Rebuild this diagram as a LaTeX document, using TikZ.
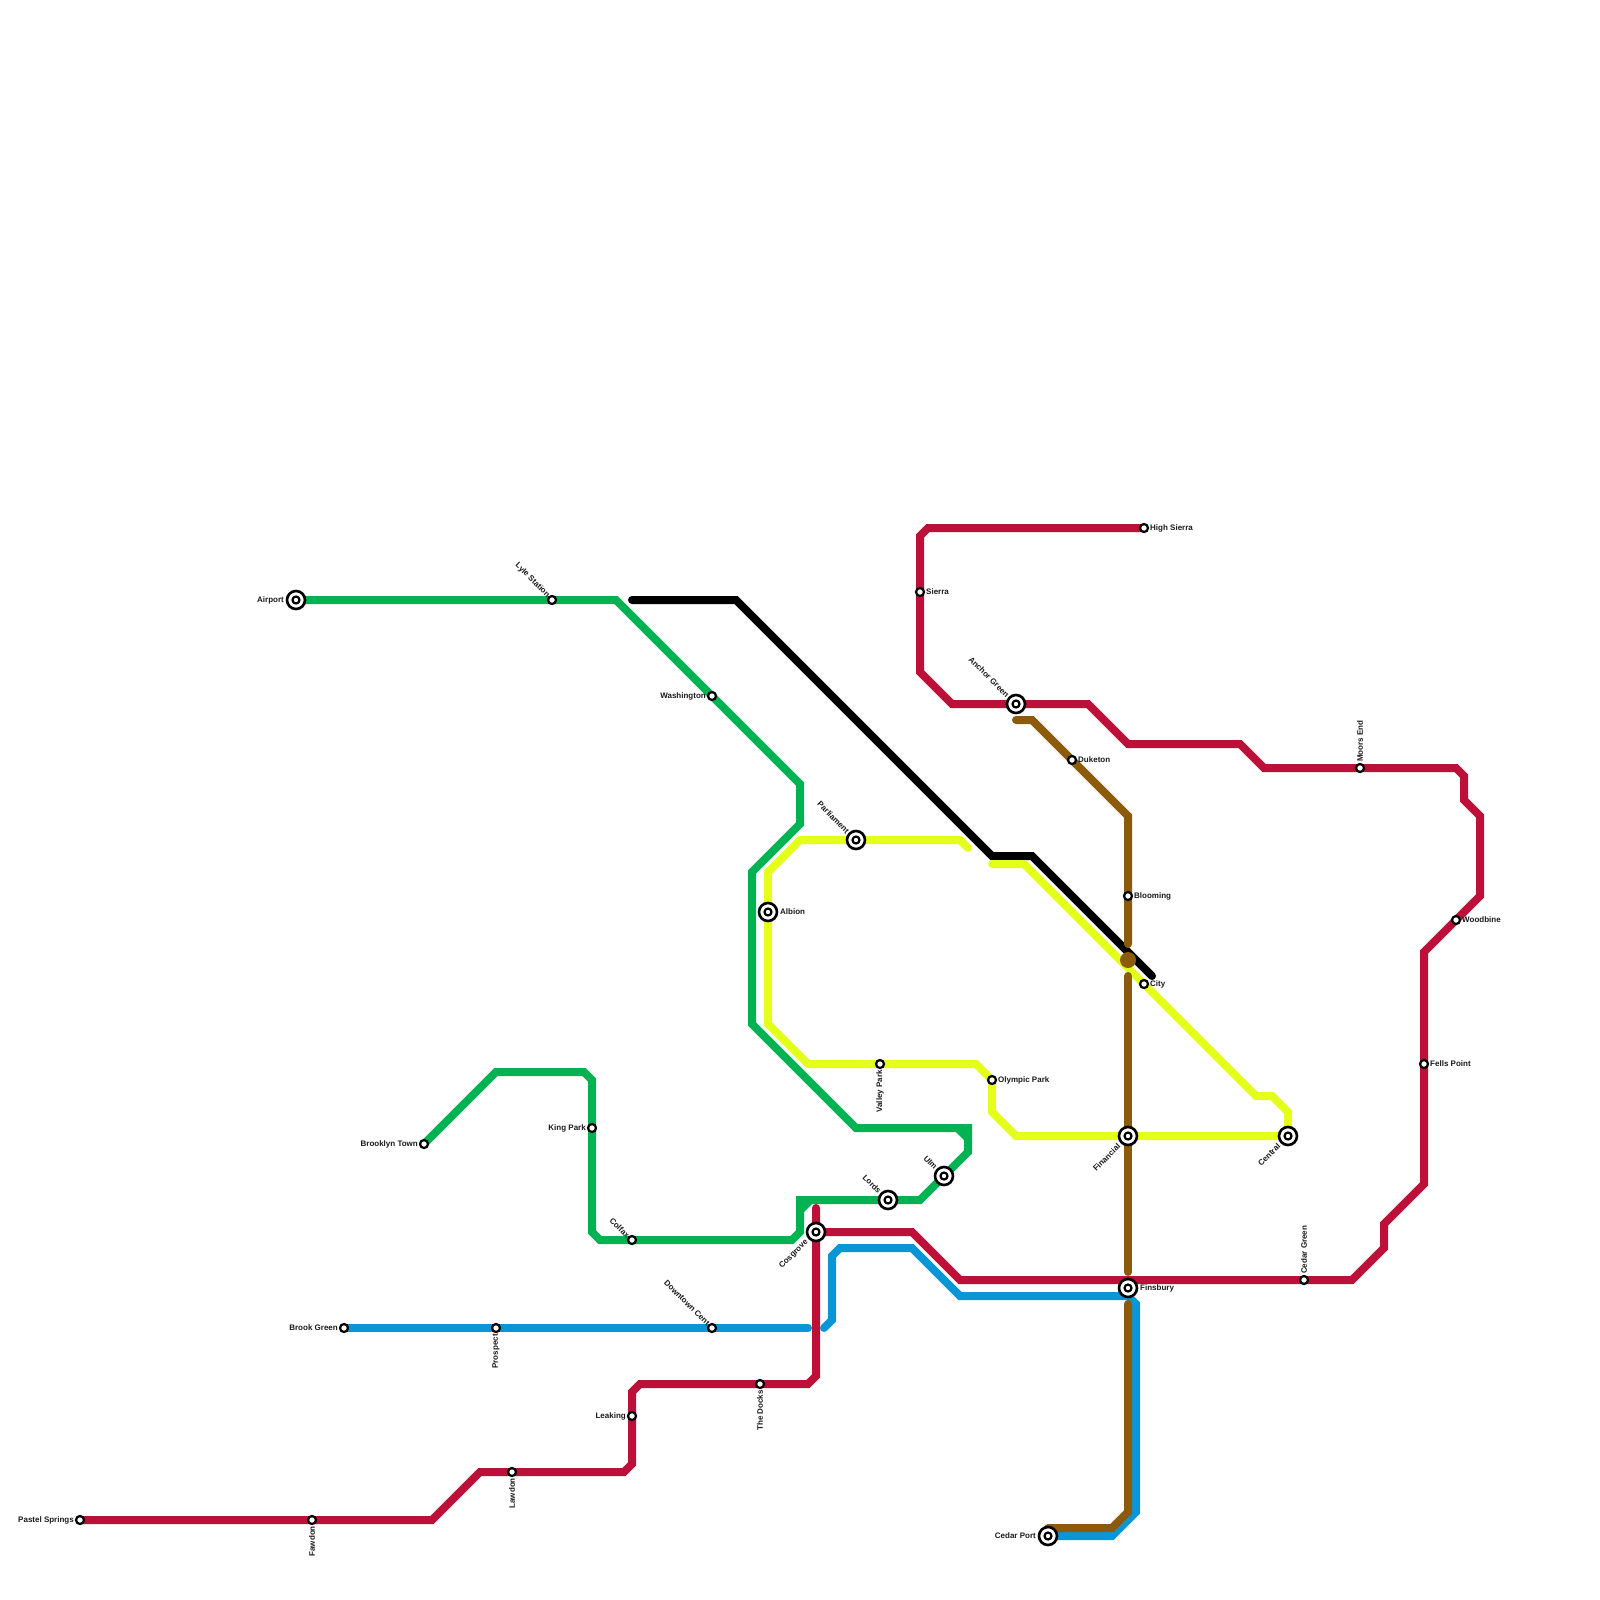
\documentclass[tikz,border=0pt]{standalone}
\usepackage{fontspec}
\setmainfont{Liberation Sans}
\pgfdeclarelayer{lines}
\pgfsetlayers{lines,main}
\definecolor{mred}{HTML}{BD1038}
\definecolor{mgreen}{HTML}{00B251}
\definecolor{mblue}{HTML}{0896D7}
\definecolor{mbrown}{HTML}{8B5A0B}
\definecolor{myellow}{HTML}{E4FF1A}
\tikzset{
  metro/.style={line width=8pt,line cap=round,miter limit=10},
  st/.style={circle,draw=black,fill=white,line width=2.2pt,inner sep=0pt,minimum size=8pt},
  ic/.style={circle,draw=black,fill=white,line width=2.6pt,inner sep=0pt,minimum size=18pt,
    path picture={\draw[black,line width=2.2pt] (path picture bounding box.center) circle (3.5pt);}},
  hub/.style={circle,fill=mbrown,inner sep=0pt,minimum size=16pt},
  lab/.style={font=\fontsize{8}{9}\selectfont\bfseries,inner sep=0pt,text=black!90},
  labE/.style={lab,anchor=west,xshift=6pt},
  labW/.style={lab,anchor=east,xshift=-6pt},
  labEi/.style={lab,anchor=west,xshift=12pt},
  labWi/.style={lab,anchor=east,xshift=-12pt},
  labD/.style={lab,anchor=east,yshift=-6pt,rotate=90},
  labU/.style={lab,anchor=west,yshift=6pt,rotate=90},
  labUL/.style={lab,anchor=east,xshift=-3.5pt,yshift=3.5pt,rotate=-45},
  labULi/.style={lab,anchor=east,xshift=-8pt,yshift=8pt,rotate=-45},
  labLLi/.style={lab,anchor=east,xshift=-9pt,yshift=-9pt,rotate=45},
}
\begin{document}
\begin{tikzpicture}[x=1pt,y=-1pt]
\useasboundingbox (0,0) rectangle (1600,1600);
% stations
\node[ic] (airport) at (296,600) {};
\node[st] (lyle) at (552,600) {};
\node[st] (washington) at (712,696) {};
\node[ic] (albion) at (768,912) {};
\node[ic] (parliament) at (856,840) {};
\node[st] (valley) at (880,1064) {};
\node[st] (olympic) at (992,1080) {};
\node[ic] (ulm) at (944,1176) {};
\node[ic] (lords) at (888,1200) {};
\node[ic] (cosgrove) at (816,1232) {};
\node[st] (colfax) at (632,1240) {};
\node[st] (kingpark) at (592,1128) {};
\node[st] (brooklyn) at (424,1144) {};
\node[st] (brookgreen) at (344,1328) {};
\node[st] (prospect) at (496,1328) {};
\node[st] (downtown) at (712,1328) {};
\node[st] (docks) at (760,1384) {};
\node[st] (leaking) at (632,1416) {};
\node[st] (lawdon) at (512,1472) {};
\node[st] (fawdon) at (312,1520) {};
\node[st] (pastel) at (80,1520) {};
\node[st] (highsierra) at (1144,528) {};
\node[st] (sierra) at (920,592) {};
\node[ic] (anchor) at (1016,704) {};
\node[st] (duketon) at (1072,760) {};
\node[st] (blooming) at (1128,896) {};
\node[hub] (hubx) at (1128,960) {};
\node[st] (city) at (1144,984) {};
\node[ic] (financial) at (1128,1136) {};
\node[ic] (central) at (1288,1136) {};
\node[ic] (finsbury) at (1128,1288) {};
\node[st] (cedargreen) at (1304,1280) {};
\node[ic] (cedarport) at (1048,1536) {};
\node[st] (moors) at (1360,768) {};
\node[st] (woodbine) at (1456,920) {};
\node[st] (fells) at (1424,1064) {};
% free ends
\coordinate (blackA) at (632,600);
\coordinate (blackB) at (1152,976);
\coordinate (yellowA) at (992,864);
\coordinate (yellowB) at (968,848);
\coordinate (redA) at (816,1208);
\coordinate (blueA) at (808,1328);
\coordinate (blueB) at (824,1328);
\coordinate (brownA) at (1016,720);
\coordinate (brownB) at (1128,944);
\coordinate (brownC) at (1128,976);
\coordinate (brownD) at (1128,1272);
\coordinate (brownE) at (1128,1304);
% labels
\node[labWi] (tairport) at (airport) {Airport};
\node[labUL] (tlyle) at (lyle) {Lyle Station};
\node[labW] (twashington) at (washington) {Washington};
\node[labEi] (talbion) at (albion) {Albion};
\node[labULi] (tparliament) at (parliament) {Parliament};
\node[labD] (tvalley) at (valley) {Valley Park};
\node[labE] (tolympic) at (olympic) {Olympic Park};
\node[labULi] (tulm) at (ulm) {Ulm};
\node[labULi] (tlords) at (lords) {Lords};
\node[labLLi] (tcosgrove) at (cosgrove) {Cosgrove};
\node[labUL] (tcolfax) at (colfax) {Colfax};
\node[labW] (tkingpark) at (kingpark) {King Park};
\node[labW] (tbrooklyn) at (brooklyn) {Brooklyn Town};
\node[labW] (tbrookgreen) at (brookgreen) {Brook Green};
\node[labD] (tprospect) at (prospect) {Prospect};
\node[labUL] (tdowntown) at (downtown) {Downtown Cent};
\node[labD] (tdocks) at (docks) {The Docks};
\node[labW] (tleaking) at (leaking) {Leaking};
\node[labD] (tlawdon) at (lawdon) {Lawdon};
\node[labD] (tfawdon) at (fawdon) {Fawdon};
\node[labW] (tpastel) at (pastel) {Pastel Springs};
\node[labE] (thighsierra) at (highsierra) {High Sierra};
\node[labE] (tsierra) at (sierra) {Sierra};
\node[labULi] (tanchor) at (anchor) {Anchor Green};
\node[labE] (tduketon) at (duketon) {Duketon};
\node[labE] (tblooming) at (blooming) {Blooming};
\node[labE] (tcity) at (city) {City};
\node[labLLi] (tfinancial) at (financial) {Financial};
\node[labLLi] (tcentral) at (central) {Central};
\node[labEi] (tfinsbury) at (finsbury) {Finsbury};
\node[labU] (tcedargreen) at (cedargreen) {Cedar Green};
\node[labWi] (tcedarport) at (cedarport) {Cedar Port};
\node[labU] (tmoors) at (moors) {Moors End};
\node[labE] (twoodbine) at (woodbine) {Woodbine};
\node[labE] (tfells) at (fells) {Fells Point};
% lines
\begin{pgfonlayer}{lines}
\draw[metro,mgreen] (airport.center) -- (lyle.center) -- (616,600) -- (washington.center) -- (800,784) -- (800,824) -- (752,872) -- (752,1024) -- (856,1128) -- (968,1128) -- (968,1152) -- (ulm.center) -- (920,1200) -- (lords.center) -- (800,1200) -- (800,1232) -- (792,1240) -- (colfax.center) -- (600,1240) -- (592,1232) -- (kingpark.center) -- (592,1080) -- (584,1072) -- (496,1072) -- (brooklyn.center);
\fill[mgreen] (956,1132) -- (964,1132) -- (964,1140) -- cycle;
\fill[mgreen] (804,1204) -- (812,1204) -- (804,1212) -- cycle;
\draw[metro,black] (blackA) -- (736,600) -- (992,856) -- (1032,856) -- (blackB);
\draw[metro,myellow] (yellowA) -- (1024,864) -- (city.center) -- (1256,1096) -- (1272,1096) -- (1288,1112) -- (central.center) -- (financial.center) -- (1016,1136) -- (olympic.center |- 0,1112) -- (olympic.center) -- (976,1064) -- (valley.center) -- (808,1064) -- (768,1024) -- (albion.center) -- (768,872) -- (800,840) -- (parliament.center) -- (960,840) -- (yellowB);
\draw[metro,mblue] (brookgreen.center) -- (prospect.center) -- (downtown.center) -- (blueA);
\draw[metro,mblue] (blueB) -- (832,1320) -- (832,1256) -- (840,1248) -- (912,1248) -- (960,1296) -- (1128,1296) -- (1136,1304) -- (1136,1512) -- (1112,1536) -- (cedarport.center);
\draw[metro,mred] (redA) -- (cosgrove.center) -- (816,1376) -- (808,1384) -- (docks.center) -- (640,1384) -- (632,1392) -- (leaking.center) -- (632,1464) -- (624,1472) -- (lawdon.center) -- (480,1472) -- (432,1520) -- (fawdon.center) -- (pastel.center);
\draw[metro,mred] (cosgrove.center) -- (912,1232) -- (960,1280) -- (cedargreen.center) -- (1352,1280) -- (1384,1248) -- (1384,1224) -- (1424,1184) -- (fells.center) -- (1424,952) -- (woodbine.center) -- (1480,896) -- (1480,816) -- (1464,800) -- (1464,776) -- (1456,768) -- (moors.center) -- (1264,768) -- (1240,744) -- (1128,744) -- (1088,704) -- (anchor.center) -- (952,704) -- (920,672) -- (sierra.center) -- (920,536) -- (928,528) -- (highsierra.center);
\draw[metro,mbrown] (brownA) -- (1032,720) -- (duketon.center) -- (1128,816) -- (blooming.center) -- (brownB);
\draw[metro,mbrown] (brownC) -- (financial.center) -- (brownD);
\draw[metro,mbrown] (brownE) -- (1128,1512) -- (1112,1528) -- (cedarport.center |- 0,1528);
\end{pgfonlayer}
\end{tikzpicture}
\end{document}
